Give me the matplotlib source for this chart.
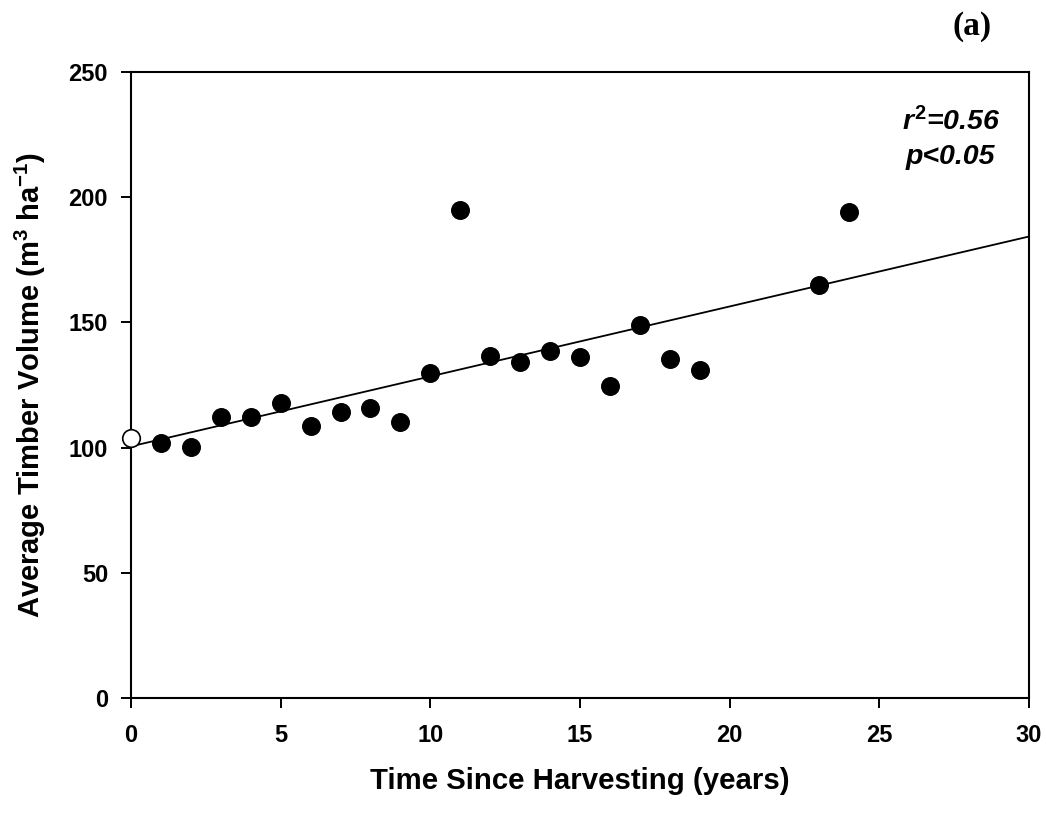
import matplotlib
matplotlib.use("Agg")
import matplotlib.pyplot as plt

# Data
years = [1, 2, 3, 4, 5, 6, 7, 8, 9, 10, 11, 12, 13, 14, 15, 16, 17, 18, 19, 23, 24]
volume = [101.7, 100.2, 112.2, 112.2, 118.0, 108.7, 114.2, 115.8, 110.3, 129.8, 195.0,
          136.7, 134.3, 138.6, 136.3, 124.8, 148.8, 135.5, 131.0, 165.0, 194.0]
open_x = [0]
open_y = [104.0]
fit_x = [0, 30]
fit_y = [100.5, 184.3]

xticks = [0, 5, 10, 15, 20, 25, 30]
yticks = [0, 50, 100, 150, 200, 250]

plt.rcParams['font.family'] = ['Liberation Sans', 'DejaVu Sans']
plt.rcParams['mathtext.fontset'] = 'custom'
plt.rcParams['mathtext.rm'] = 'Liberation Sans:bold'
plt.rcParams['mathtext.bf'] = 'Liberation Sans:bold'
plt.rcParams['mathtext.it'] = 'Liberation Sans:bold:italic'

W, H = 1046, 814
fig = plt.figure(figsize=(W / 100, H / 100), dpi=100)
ax = fig.add_axes([131 / W, 1 - 698 / H, (1029 - 131) / W, (698 - 72) / H])

ax.plot(fit_x, fit_y, color='black', lw=1.3, zorder=2)
ax.scatter(years, volume, s=160, color='black', zorder=3, clip_on=False)
ax.scatter(open_x, open_y, s=160, facecolor='white', edgecolor='black', lw=1.2,
           zorder=4, clip_on=False)

ax.set_xlim(0, 30)
ax.set_ylim(0, 250)
ax.set_xticks(xticks)
ax.set_yticks(yticks)
ax.tick_params(direction='out', length=7, width=1.4, labelsize=17)
ax.tick_params(axis='x', pad=12)
ax.tick_params(axis='y', pad=9.5)
for lbl in ax.get_xticklabels() + ax.get_yticklabels():
    lbl.set_fontweight('bold')
for sp in ax.spines.values():
    sp.set_linewidth(1.5)

ax.set_xlabel('Time Since Harvesting (years)', fontsize=21.2, fontweight='bold', labelpad=14)
ax.set_ylabel(r'Average Timber Volume (m$^{3}$ ha$^{-1}$)', fontsize=21,
              fontweight='bold', labelpad=15)

fig.text(1000 / W, 1 - 130 / H, r'$r^{\mathit{2}}$=0.56', ha='right', va='baseline',
         fontsize=20.5, fontweight='bold', fontstyle='italic')
fig.text(950 / W, 1 - 164 / H, 'p<0.05', ha='center', va='baseline',
         fontsize=20.5, fontweight='bold', fontstyle='italic')

fig.text(972 / W, 1 - 26 / H, '(a)', ha='center', va='center', fontsize=24,
         fontweight='bold', family=['Liberation Serif'])

fig.savefig('out.png', dpi=100)
